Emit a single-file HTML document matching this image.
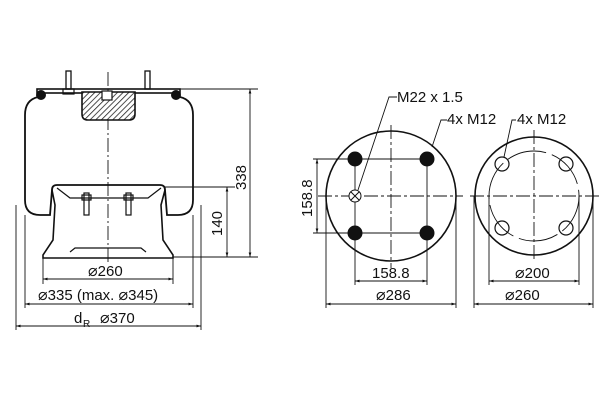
<!DOCTYPE html>
<html><head><meta charset="utf-8"><style>
html,body{margin:0;padding:0;background:#fff}
svg{display:block}
text{font-family:"Liberation Sans","DejaVu Sans",sans-serif;font-size:15px;fill:#111}
.d{font-family:"DejaVu Sans",sans-serif;font-size:16px}
</style></head><body>
<svg width="600" height="400" viewBox="0 0 600 400" xmlns="http://www.w3.org/2000/svg">
<defs>
<pattern id="h" width="4" height="4" patternUnits="userSpaceOnUse" patternTransform="rotate(45)">
<rect width="4" height="4" fill="#fff"/><line x1="0" y1="0" x2="0" y2="4" stroke="#222" stroke-width="1.6"/></pattern>
<marker id="a" viewBox="0 0 10 10" refX="10" refY="5" markerWidth="8" markerHeight="5" orient="auto-start-reverse"><path d="M0,2 L10,5 L0,8z" fill="#111"/></marker>
</defs>
<g fill="none" stroke="#111" stroke-width="1">
<line x1="108" y1="72" x2="108" y2="265" stroke-dasharray="14,3,2,3" stroke-width="0.9"/>
<rect x="37" y="89" width="143" height="4" stroke-width="1.6"/>
<circle cx="41" cy="95" r="4.5" fill="#111"/><circle cx="176" cy="95" r="4.5" fill="#111"/>
<rect x="66" y="71" width="5" height="18" stroke-width="1.3"/><rect x="145" y="71" width="5" height="18" stroke-width="1.3"/>
<rect x="63" y="89" width="11" height="5" stroke-width="1.2"/>
<path d="M82,92 L135,92 L135,114 Q135,120 129,120 L88,120 Q82,120 82,114 Z" fill="url(#h)" stroke-width="1.6"/>
<rect x="102" y="91" width="10" height="9" fill="#fff" stroke-width="1.2"/>
<path d="M38,97 Q25,100 25,115 L25,200 Q25,215 40,215 L50,215 L52,190 Q52,185 57,185 L160,185 Q165,185 165,190 L167,215 L178,215 Q193,215 193,200 L193,115 Q193,100 180,97" stroke-width="1.8"/>
<path d="M52,190 L55,205 L53,240 L43,255 L43,258 L173,258 L173,255 L163,240 L161,205 L165,190" stroke-width="1.6"/>
<path d="M57,188 L70,198 L148,198 L161,188" stroke-width="1.2"/>
<path d="M70,252 L75,248 L141,248 L146,252" stroke-width="1.2"/>
<rect x="84" y="193" width="5" height="22" stroke-width="1.2"/><rect x="126" y="193" width="5" height="22" stroke-width="1.2"/>
<rect x="82" y="195" width="9" height="5" stroke-width="1.2"/><rect x="124" y="195" width="9" height="5" stroke-width="1.2"/>
<line x1="180" y1="89" x2="258" y2="89" stroke-width="0.9"/>
<line x1="165" y1="187" x2="235" y2="187" stroke-width="0.9"/>
<line x1="173" y1="257" x2="258" y2="257" stroke-width="0.9"/>
<line x1="43" y1="258" x2="43" y2="284" stroke-width="0.9"/><line x1="173" y1="258" x2="173" y2="284" stroke-width="0.9"/>
<line x1="25" y1="215" x2="25" y2="308" stroke-width="0.9"/><line x1="193" y1="215" x2="193" y2="308" stroke-width="0.9"/>
<line x1="16" y1="205" x2="16" y2="330" stroke-width="0.9"/><line x1="201" y1="205" x2="201" y2="330" stroke-width="0.9"/>
<line x1="250" y1="89" x2="250" y2="257" marker-start="url(#a)" marker-end="url(#a)" stroke-width="0.9"/>
<line x1="227" y1="187" x2="227" y2="257" marker-start="url(#a)" marker-end="url(#a)" stroke-width="0.9"/>
<line x1="43" y1="279" x2="173" y2="279" marker-start="url(#a)" marker-end="url(#a)" stroke-width="0.9"/>
<line x1="25" y1="304" x2="193" y2="304" marker-start="url(#a)" marker-end="url(#a)" stroke-width="0.9"/>
<line x1="16" y1="326" x2="201" y2="326" marker-start="url(#a)" marker-end="url(#a)" stroke-width="0.9"/>
<circle cx="391" cy="196" r="65" stroke-width="1.6"/>
<line x1="318" y1="196" x2="463" y2="196" stroke-dasharray="14,3,3,3" stroke-width="0.9"/>
<line x1="391" y1="125" x2="391" y2="268" stroke-dasharray="14,3,3,3" stroke-width="0.9"/>
<line x1="313" y1="159" x2="427" y2="159" stroke-width="0.9"/><line x1="313" y1="233" x2="427" y2="233" stroke-width="0.9"/>
<line x1="355" y1="159" x2="355" y2="285" stroke-width="0.9"/><line x1="427" y1="159" x2="427" y2="285" stroke-width="0.9"/>
<line x1="326" y1="196" x2="326" y2="308" stroke-width="0.9"/><line x1="456" y1="196" x2="456" y2="308" stroke-width="0.9"/>
<line x1="317" y1="159" x2="317" y2="233" marker-start="url(#a)" marker-end="url(#a)" stroke-width="0.9"/>
<line x1="355" y1="281" x2="427" y2="281" marker-start="url(#a)" marker-end="url(#a)" stroke-width="0.9"/>
<line x1="326" y1="304" x2="456" y2="304" marker-start="url(#a)" marker-end="url(#a)" stroke-width="0.9"/>
<circle cx="355" cy="159" r="7" fill="#111"/><circle cx="427" cy="159" r="7" fill="#111"/>
<circle cx="355" cy="233" r="7" fill="#111"/><circle cx="427" cy="233" r="7" fill="#111"/>
<circle cx="355" cy="196" r="6" fill="#fff"/><path d="M351,192 L359,200 M359,192 L351,200"/>
<polyline points="397,97 389,97 358,190" stroke-width="0.9"/>
<polyline points="447,120 441,120 432,147" stroke-width="0.9"/>
<circle cx="534" cy="196" r="59" stroke-width="1.6"/>
<circle cx="534" cy="196" r="45" stroke-width="0.9" stroke-dasharray="40,6"/>
<line x1="470" y1="196" x2="600" y2="196" stroke-dasharray="14,3,3,3" stroke-width="0.9"/>
<line x1="534" y1="130" x2="534" y2="262" stroke-dasharray="14,3,3,3" stroke-width="0.9"/>
<circle cx="502" cy="164" r="7" stroke-width="1.2"/><circle cx="566" cy="164" r="7" stroke-width="1.2"/>
<circle cx="502" cy="228" r="7" stroke-width="1.2"/><circle cx="566" cy="228" r="7" stroke-width="1.2"/>
<line x1="489" y1="196" x2="489" y2="285" stroke-width="0.9"/><line x1="579" y1="196" x2="579" y2="285" stroke-width="0.9"/>
<line x1="474" y1="196" x2="474" y2="308" stroke-width="0.9"/><line x1="593" y1="196" x2="593" y2="308" stroke-width="0.9"/>
<line x1="489" y1="281" x2="579" y2="281" marker-start="url(#a)" marker-end="url(#a)" stroke-width="0.9"/>
<line x1="474" y1="304" x2="593" y2="304" marker-start="url(#a)" marker-end="url(#a)" stroke-width="0.9"/>
<polyline points="516,120 512,120 504,157" stroke-width="0.9"/>
</g>
<text x="88" y="276"><tspan class="d">⌀</tspan>260</text>
<text x="38" y="300"><tspan class="d">⌀</tspan>335 (max. <tspan class="d">⌀</tspan>345)</text>
<text x="74" y="323">d</text><text x="83" y="327" style="font-size:10px">R</text><text x="100" y="323"><tspan class="d">⌀</tspan>370</text>
<text transform="translate(246,190) rotate(-90)">338</text>
<text transform="translate(222,236) rotate(-90)">140</text>
<text x="397" y="102">M22 x 1.5</text>
<text x="447" y="124">4x M12</text>
<text x="517" y="124">4x M12</text>
<text transform="translate(312,217) rotate(-90)">158.8</text>
<text x="372" y="278">158.8</text>
<text x="376" y="300"><tspan class="d">⌀</tspan>286</text>
<text x="515" y="278"><tspan class="d">⌀</tspan>200</text>
<text x="505" y="300"><tspan class="d">⌀</tspan>260</text>
</svg>
</body></html>
